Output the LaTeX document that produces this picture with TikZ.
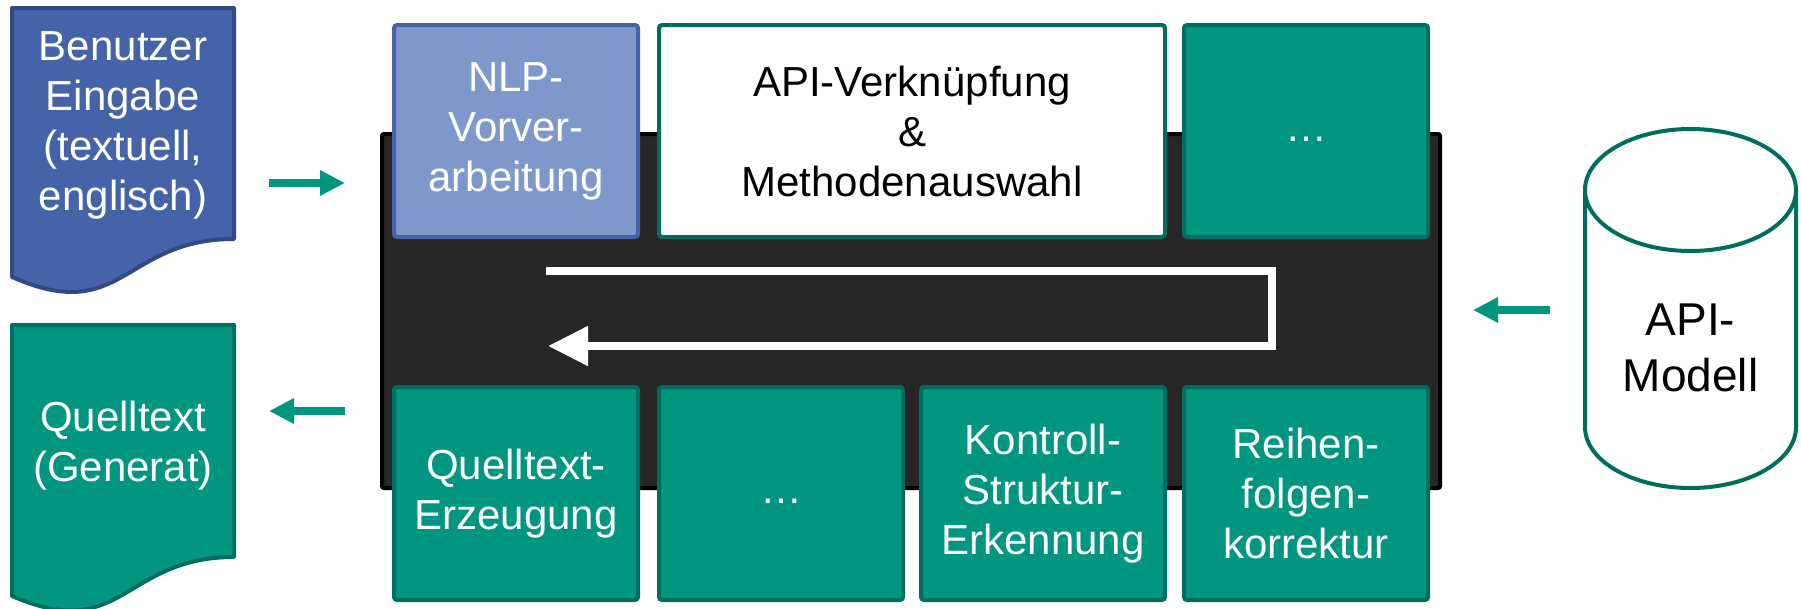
\documentclass[tikz,border=0pt]{standalone}
\usepackage{fontspec}
\setmainfont{Liberation Sans}
\usetikzlibrary{arrows.meta}
\definecolor{docblue}{HTML}{4463A8}
\definecolor{docblueline}{HTML}{2F4B85}
\definecolor{nlpfill}{HTML}{7F98CC}
\definecolor{nlpline}{HTML}{4463A8}
\definecolor{tealfill}{HTML}{009680}
\definecolor{tealline}{HTML}{006E5E}
\definecolor{panelgray}{HTML}{262626}
\begin{document}
\begin{tikzpicture}[x=1pt,y=-1pt,
  lbl/.style={font=\fontsize{42}{50}\selectfont, align=center},
  box/.style={draw, line width=4pt, rounded corners=3pt, inner sep=0pt, anchor=north west, lbl},
  tealbox/.style={box, fill=tealfill, draw=tealline, text=white},
  toprow/.style={minimum width=244pt, minimum height=212pt},
  botrow/.style={minimum width=244pt, minimum height=213pt},
  arr/.style={draw=tealfill, line width=8pt, -{Triangle[length=25pt,width=24pt]}},
  docshape/.style={line width=4pt, line join=round},
]
\useasboundingbox (0,0) rectangle (1801,608);

% documents
\draw[docshape, fill=docblue, draw=docblueline] (12,8) -- (234,8) -- (234,239) .. controls (123,239) and (123,326) .. (12,277) -- cycle;
\node[lbl, text=white] (user) at (123,125) {Benutzer\\Eingabe\\(textuell,\\englisch)};
\draw[docshape, fill=tealfill, draw=tealline] (12,325) -- (234,325) -- (234,557) .. controls (123,557) and (123,644) .. (12,596) -- cycle;
\node[lbl, text=white] (gen) at (123,446) {Quelltext\\(Generat)};

% dark panel
\node[draw=black, fill=panelgray, line width=4pt, rounded corners=2pt, anchor=north west, inner sep=0pt,
      minimum width=1058pt, minimum height=354pt] (panel) at (380,132) {};

% top row
\node[box, toprow, fill=nlpfill, draw=nlpline, text=white] (nlp) at (392,23) {NLP-\\Vorver-\\arbeitung};
\node[box, fill=white, draw=tealline, text=black, minimum width=506pt, minimum height=212pt] (apiv) at (657,23) {API-Verknüpfung\\\&\\Methodenauswahl};
\node[tealbox, toprow] (dotsA) at (1182,23) {\vphantom{Ag}…};

% bottom row
\node[tealbox, botrow] (qe) at (392,385) {Quelltext-\\Erzeugung};
\node[tealbox, botrow] (dotsB) at (657,385) {\vphantom{Ag}…};
\node[tealbox, botrow] (kse) at (919,385) {Kontroll-\\Struktur-\\Erkennung};
\node[tealbox, botrow] (rfk) at (1182,385) {Reihen-\\folgen-\\korrektur};

% loop arrow
\coordinate (l1) at (546,271);
\coordinate (l2) at (1272,271);
\coordinate (l3) at (1272,346);
\coordinate (l4) at (548,346);
\draw[white, line width=8pt, line join=miter, -{Triangle[length=40pt,width=38pt]}] (l1) -- (l2) -- (l3) -- (l4);

% cylinder
\draw[tealline, fill=white, line width=4pt] (1585,190) -- (1585,427) arc[start angle=180, end angle=360, x radius=105.5pt, y radius=61pt] -- (1796,190);
\draw[tealline, fill=white, line width=4pt] (1690.5,190) ellipse [x radius=105.5pt, y radius=61pt];
\node[font=\fontsize{46}{56}\selectfont, align=center] (apim) at (1690.5,348) {API-\\Modell};

% teal arrows
\coordinate (a1s) at (269,183); \coordinate (a1e) at (345,183);
\coordinate (a2s) at (345,411); \coordinate (a2e) at (269,411);
\coordinate (a3s) at (1550,310); \coordinate (a3e) at (1473,310);
\draw[arr] (a1s) -- (a1e);
\draw[arr] (a2s) -- (a2e);
\draw[arr] (a3s) -- (a3e);
\end{tikzpicture}
\end{document}
